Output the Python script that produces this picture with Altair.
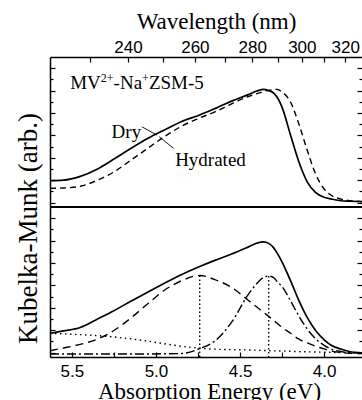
import altair as alt
import pandas as pd

# Photon energy grid (eV) shared by all spectra
energy = [5.63, 5.55, 5.45, 5.35, 5.25, 5.15, 5.05, 4.95, 4.85, 4.74,
          4.65, 4.55, 4.45, 4.40, 4.36, 4.33, 4.30, 4.28, 4.25, 4.20,
          4.15, 4.10, 4.05, 4.00, 3.95, 3.90, 3.85, 3.775]

# Upper panel: Kubelka-Munk spectra (arb. units)
dry = [1.95, 2.00, 2.34, 2.98, 3.88, 4.82, 5.71, 6.48, 7.22, 7.82,
       8.39, 9.06, 9.64, 9.96, 10.11, 10.00, 9.78, 9.42, 8.50, 6.03,
       3.62, 1.83, 0.88, 0.47, 0.29, 0.16, 0.12, 0.07]
hydrated = [1.27, 1.30, 1.45, 1.98, 2.73, 3.77, 4.83, 5.88, 6.80, 7.55,
            8.10, 8.82, 9.47, 9.73, 9.91, 10.02, 10.09, 10.11, 9.87, 8.98,
            7.00, 4.64, 2.52, 1.21, 0.58, 0.31, 0.17, 0.09]

# Lower panel: dry spectrum and its decomposition
fit_total = [1.72, 1.93, 2.24, 2.98, 3.74, 4.57, 5.39, 6.18, 6.94, 7.68,
             8.23, 8.80, 9.44, 9.77, 9.89, 9.75, 9.35, 8.90, 8.08, 6.42,
             4.64, 3.11, 1.94, 1.14, 0.58, 0.31, 0.09, -0.02]
band_high = [0.16, 0.40, 0.73, 1.19, 1.97, 3.07, 4.34, 5.56, 6.40, 6.88,
             6.52, 5.81, 4.65, 4.06, 3.58, 3.23, 2.86, 2.62, 2.25, 1.72,
             1.19, 0.86, 0.56, 0.32, 0.10, 0.00, -0.06, -0.09]
band_low = [-0.13, -0.13, -0.13, -0.13, -0.13, -0.13, -0.13, -0.11, -0.09, 0.35,
            1.03, 2.71, 5.21, 6.16, 6.72, 6.83, 6.70, 6.35, 5.89, 4.63,
            3.25, 2.09, 1.22, 0.64, 0.26, 0.09, -0.01, -0.04]
background = [1.72, 1.67, 1.60, 1.51, 1.39, 1.22, 1.02, 0.78, 0.56, 0.39,
              0.30, 0.26, 0.23, 0.21, 0.18, 0.17, 0.15, 0.14, 0.13, 0.11,
              0.08, 0.06, 0.05, 0.03, 0.01, 0.00, -0.02, -0.04]

# Axis labelling
wl_ticks = [230, 240, 250, 260, 270, 280, 290, 300, 310, 320]
wl_labels = [240, 260, 280, 300, 320]
ev_labels = [5.5, 5.0, 4.5, 4.0]
ev_ticks = [5.5, 5.25, 5.0, 4.75, 4.5, 4.25, 4.0]

HC = 1239.84          # eV * nm
X_DOMAIN = [3.775, 5.63]
Y_MIN = -0.4
PANEL = 13.4          # vertical span of one panel in data units
TOP = PANEL           # shift applied to the upper panel
DIVIDER = Y_MIN + PANEL
W, H = 312, 300

SERIF = "'Liberation Serif', 'Times New Roman', Times, 'DejaVu Serif', serif"
SANS = "'Liberation Sans', Arial, Helvetica, sans-serif"

xscale = alt.Scale(domain=X_DOMAIN, reverse=True, nice=False, zero=False)
yscale = alt.Scale(domain=[Y_MIN, Y_MIN + 2 * PANEL], nice=False, zero=False)

y_tick_values = [float(v) for v in range(13)] + [v + TOP for v in range(13)]
major_test = (f"abs(datum.value - 2*round(datum.value/2)) < 0.01 || "
              f"abs(datum.value - {TOP} - 2*round((datum.value - {TOP})/2)) < 0.01")
tick_len = {"condition": {"test": major_test, "value": 5}, "value": 3}

ax_x_bottom = alt.Axis(
    orient="bottom", values=ev_labels, format=".1f", ticks=False, labelPadding=6,
    labelFont=SANS, labelFontSize=17, labelFlush=False, labelOverlap=False,
    domainWidth=1.5, title="Absorption Energy (eV)", titleFont=SERIF,
    titleFontSize=23, titleFontWeight="normal", titleX=159, titleY=41,
    titleAlign="center", titleBaseline="alphabetic")
ax_x_top = alt.Axis(
    orient="top", values=[HC / w for w in wl_labels],
    labelExpr=f"format({HC} / datum.value, '.0f')", ticks=False, labelPadding=1,
    labelFont=SANS, labelFontSize=17, labelFlush=False, labelOverlap=False,
    domainWidth=1.5, title="Wavelength (nm)", titleFont=SERIF, titleFontSize=23,
    titleFontWeight="normal", titleX=166, titleY=-29, titleAlign="center",
    titleBaseline="alphabetic")
ax_x_bottom_ticks = alt.Axis(
    orient="top", offset=-H, values=ev_ticks, labels=False, domain=False,
    tickSize=5, tickWidth=1.2, title=None)
ax_x_top_ticks = alt.Axis(
    orient="bottom", offset=-H, values=[HC / w for w in wl_ticks], labels=False,
    domain=False, tickSize=5, tickWidth=1.2, title=None)
ax_y_title = alt.Axis(
    orient="left", ticks=False, labels=False, domainWidth=1.5,
    title="Kubelka-Munk (arb.)", titleFont=SERIF, titleFontSize=27,
    titleFontWeight="normal", titleX=-22, titleY=171, titleAngle=270,
    titleAlign="center", titleBaseline="middle")
ax_y_left_ticks = alt.Axis(
    orient="right", offset=-W, values=y_tick_values, labels=False, domain=False,
    tickSize=tick_len, tickWidth=1.2, title=None)
ax_y_right_ticks = alt.Axis(
    orient="left", offset=-W, values=y_tick_values, labels=False, domain=False,
    tickSize=tick_len, tickWidth=1.2, title=None)

top_df = pd.DataFrame({"energy": energy, "dry": dry, "hydrated": hydrated})
bot_df = pd.DataFrame({"energy": energy, "total": fit_total, "band_high": band_high,
                       "band_low": band_low, "background": background})


def curve(df, field, shift, ax_x, ax_y, **mark):
    return (
        alt.Chart(df)
        .transform_calculate(yv=f"datum['{field}'] + {shift}")
        .mark_line(interpolate="monotone", color="black", **mark)
        .encode(x=alt.X("energy:Q", scale=xscale, axis=ax_x),
                y=alt.Y("yv:Q", scale=yscale, axis=ax_y))
    )


dry_line = curve(top_df, "dry", TOP, ax_x_bottom, ax_y_title, strokeWidth=1.7)
hyd_line = curve(top_df, "hydrated", TOP, ax_x_top, ax_y_left_ticks,
                 strokeWidth=1.4, strokeDash=[6, 4])
total_line = curve(bot_df, "total", 0, ax_x_bottom_ticks, ax_y_right_ticks, strokeWidth=1.7)
high_line = curve(bot_df, "band_high", 0, ax_x_top_ticks, None,
                  strokeWidth=1.4, strokeDash=[8, 5])
low_line = curve(bot_df, "band_low", 0, None, None,
                 strokeWidth=1.4, strokeDash=[9, 3, 2, 3])
bg_line = curve(bot_df, "background", 0, None, None,
                strokeWidth=1.4, strokeDash=[1.5, 3.5])

# Drop lines from each band maximum to the baseline
peak_rows = []
for band in (band_high, band_low):
    i = band.index(max(band))
    peak_rows.append({"energy": energy[i], "height": band[i], "base": Y_MIN})
peaks = (
    alt.Chart(pd.DataFrame(peak_rows))
    .mark_rule(color="black", strokeWidth=1.4, strokeDash=[1.5, 2.5])
    .encode(x=alt.X("energy:Q", scale=xscale, axis=None),
            y=alt.Y("height:Q", scale=yscale, axis=None),
            y2="base:Q")
)

divider = (
    alt.Chart(pd.DataFrame({"level": [DIVIDER]}))
    .mark_rule(color="black", strokeWidth=2)
    .encode(y=alt.Y("level:Q", scale=yscale, axis=None))
)

# Leader lines for the curve labels (upper panel units)
leaders = (
    alt.Chart(pd.DataFrame({"e1": [5.084, 4.981], "e2": [4.995, 4.896],
                            "l1": [6.77, 5.89], "l2": [6.03, 4.84]}))
    .transform_calculate(y1=f"datum.l1 + {TOP}", y2=f"datum.l2 + {TOP}")
    .mark_rule(color="black", strokeWidth=0.9)
    .encode(x=alt.X("e1:Q", scale=xscale, axis=None), x2="e2:Q",
            y=alt.Y("y1:Q", scale=yscale, axis=None), y2="y2:Q")
)


def label(text, e, level, align):
    return (
        alt.Chart(pd.DataFrame({"energy": [e], "level": [level]}))
        .transform_calculate(yv=f"datum.level + {TOP}")
        .mark_text(text=text, font=SERIF, fontSize=19, align=align,
                   baseline="alphabetic", color="black")
        .encode(x=alt.X("energy:Q", scale=xscale, axis=None),
                y=alt.Y("yv:Q", scale=yscale, axis=None))
    )


dry_label = label("Dry", 5.088, 5.76, "right")
hyd_label = label("Hydrated", 4.886, 3.26, "left")

# Sample name with superscripted charges
sample_parts = [("MV", 0, 0, 19), ("2+", 30.6, -7, 12), ("-Na", 43.4, 0, 19),
                ("+", 71.9, -7, 12), ("ZSM-5", 78.7, 0, 19)]
sample_layers = []
for txt, dx, dy, size in sample_parts:
    sample_layers.append(
        alt.Chart(pd.DataFrame({"energy": [5.51], "level": [10.11]}))
        .transform_calculate(yv=f"datum.level + {TOP}")
        .mark_text(text=txt, font=SERIF, fontSize=size, align="left",
                   baseline="alphabetic", dx=dx, dy=dy, color="black")
        .encode(x=alt.X("energy:Q", scale=xscale, axis=None),
                y=alt.Y("yv:Q", scale=yscale, axis=None))
    )

chart = (
    alt.layer(dry_line, hyd_line, total_line, high_line, low_line, bg_line,
              peaks, divider, leaders, dry_label, hyd_label, *sample_layers)
    .resolve_axis(x="independent", y="independent")
    .properties(width=W, height=H, background="white",
                autosize=alt.AutoSizeParams(type="none"),
                padding={"left": 50, "top": 57, "right": 0, "bottom": 43})
    .configure_view(stroke=None)
    .configure_axis(grid=False, tickColor="black", domainColor="black",
                    labelColor="black", titleColor="black")
)

chart.save("out.html", embed_options={"renderer": "svg", "actions": False})
